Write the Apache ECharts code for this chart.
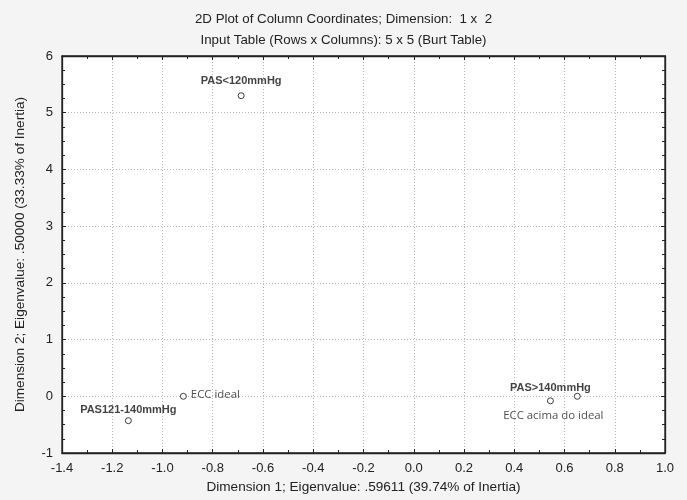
<!DOCTYPE html>
<html>
<head>
<meta charset="utf-8">
<script src="https://cdn.jsdelivr.net/npm/echarts@6/dist/echarts.min.js"></script>
<style>
html,body{margin:0;padding:0;background:#f4f4f4;}
#chart{width:687px;height:500px;}
</style>
</head>
<body>
<div id="chart"></div>
<script>
// Data
var pointNames = ["PAS<120mmHg", "ECC ideal", "PAS121-140mmHg", "PAS>140mmHg", "ECC acima do ideal"];
var dim1Values = [-0.687, -0.917, -1.136, 0.544, 0.651];
var dim2Values = [5.30, 0.00, -0.43, -0.08, 0.00];
var xTicks = [-1.4, -1.2, -1.0, -0.8, -0.6, -0.4, -0.2, 0.0, 0.2, 0.4, 0.6, 0.8, 1.0];
var yTicks = [-1, 0, 1, 2, 3, 4, 5, 6];

// Label placement (styling, kept separate from the data)
var boldFont = {fontFamily: "Arial, Liberation Sans, sans-serif", fontWeight: "bold", fontSize: 11, color: "#111"};
var thinFont = {fontFamily: "Open Sans, sans-serif", fontWeight: "normal", fontSize: 11.4, color: "#222"};
var labelCfg = {
  "PAS<120mmHg": Object.assign({position: "top", distance: 6, offset: [0, 0]}, boldFont),
  "ECC ideal": Object.assign({position: "right", distance: 4, offset: [0, -2]}, thinFont),
  "PAS121-140mmHg": Object.assign({position: "top", distance: 2, offset: [0, 0]}, boldFont),
  "PAS>140mmHg": Object.assign({position: "top", distance: 4, offset: [0, 0]}, boldFont),
  "ECC acima do ideal": Object.assign({position: "bottom", distance: 10, offset: [-24, 0]}, thinFont)
};

var seriesData = pointNames.map(function (n, i) {
  return {
    name: n,
    value: [dim1Values[i], dim2Values[i]],
    label: Object.assign({show: true, formatter: n}, labelCfg[n])
  };
});

var chart = echarts.init(document.getElementById("chart"));
var tickFont = {fontFamily: "Arial, Liberation Sans, sans-serif", fontSize: 13, color: "#222"};
var nameFont = {fontFamily: "Arial, Liberation Sans, sans-serif", fontSize: 13.6, color: "#222"};
var gridLine = {show: true, lineStyle: {color: "#b8b8b8", type: [1, 2], width: 1}};
var axisLn = {show: true, onZero: false, lineStyle: {color: "#222", width: 1.3}};
var tick = {show: true, inside: true, length: 4, lineStyle: {color: "#222"}};

chart.setOption({
  backgroundColor: "#f4f4f4",
  animation: false,
  title: [
    {text: "2D Plot of Column Coordinates; Dimension:  1 x  2", left: "center", top: 8,
     textStyle: {fontFamily: "Arial, Liberation Sans, sans-serif", fontSize: 13.3, fontWeight: "normal", color: "#222"}},
    {text: "Input Table (Rows x Columns): 5 x 5 (Burt Table)", left: "center", top: 29,
     textStyle: {fontFamily: "Arial, Liberation Sans, sans-serif", fontSize: 13.3, fontWeight: "normal", color: "#222"}}
  ],
  grid: {left: 62, right: 22, top: 56, bottom: 47, show: true, backgroundColor: "#ffffff", borderColor: "#222", borderWidth: 1.3},
  xAxis: [
    {type: "value", min: -1.4, max: 1.0, interval: 0.2, position: "bottom",
     name: "Dimension 1; Eigenvalue: .59611 (39.74% of Inertia)", nameLocation: "middle", nameGap: 27,
     nameTextStyle: nameFont,
     axisLine: axisLn, axisTick: tick,
     minorTick: {show: true, splitNumber: 2, length: 3, lineStyle: {color: "#222"}},
     axisLabel: Object.assign({margin: 9, formatter: function (v) { return (Math.abs(v) < 1e-9 ? 0 : v).toFixed(1); }}, tickFont),
     splitLine: gridLine},
    {type: "value", min: -1.4, max: 1.0, interval: 0.2, position: "top",
     axisLine: axisLn, axisTick: tick,
     minorTick: {show: true, splitNumber: 2, length: 3, lineStyle: {color: "#222"}},
     axisLabel: {show: false}, splitLine: {show: false}}
  ],
  yAxis: [
    {type: "value", min: -1, max: 6, interval: 1, position: "left",
     name: "Dimension 2; Eigenvalue: .50000 (33.33% of Inertia)", nameLocation: "middle", nameGap: 35,
     nameTextStyle: nameFont,
     axisLine: axisLn, axisTick: tick,
     minorTick: {show: true, splitNumber: 4, length: 3, lineStyle: {color: "#222"}},
     axisLabel: Object.assign({margin: 9}, tickFont),
     splitLine: gridLine},
    {type: "value", min: -1, max: 6, interval: 1, position: "right",
     axisLine: axisLn, axisTick: tick,
     minorTick: {show: true, splitNumber: 4, length: 3, lineStyle: {color: "#222"}},
     axisLabel: {show: false}, splitLine: {show: false}}
  ],
  series: [{
    type: "scatter",
    xAxisIndex: 0, yAxisIndex: 0,
    symbol: "circle", symbolSize: 6,
    itemStyle: {color: "#ffffff", borderColor: "#111", borderWidth: 1},
    data: seriesData
  }]
});
</script>
</body>
</html>
